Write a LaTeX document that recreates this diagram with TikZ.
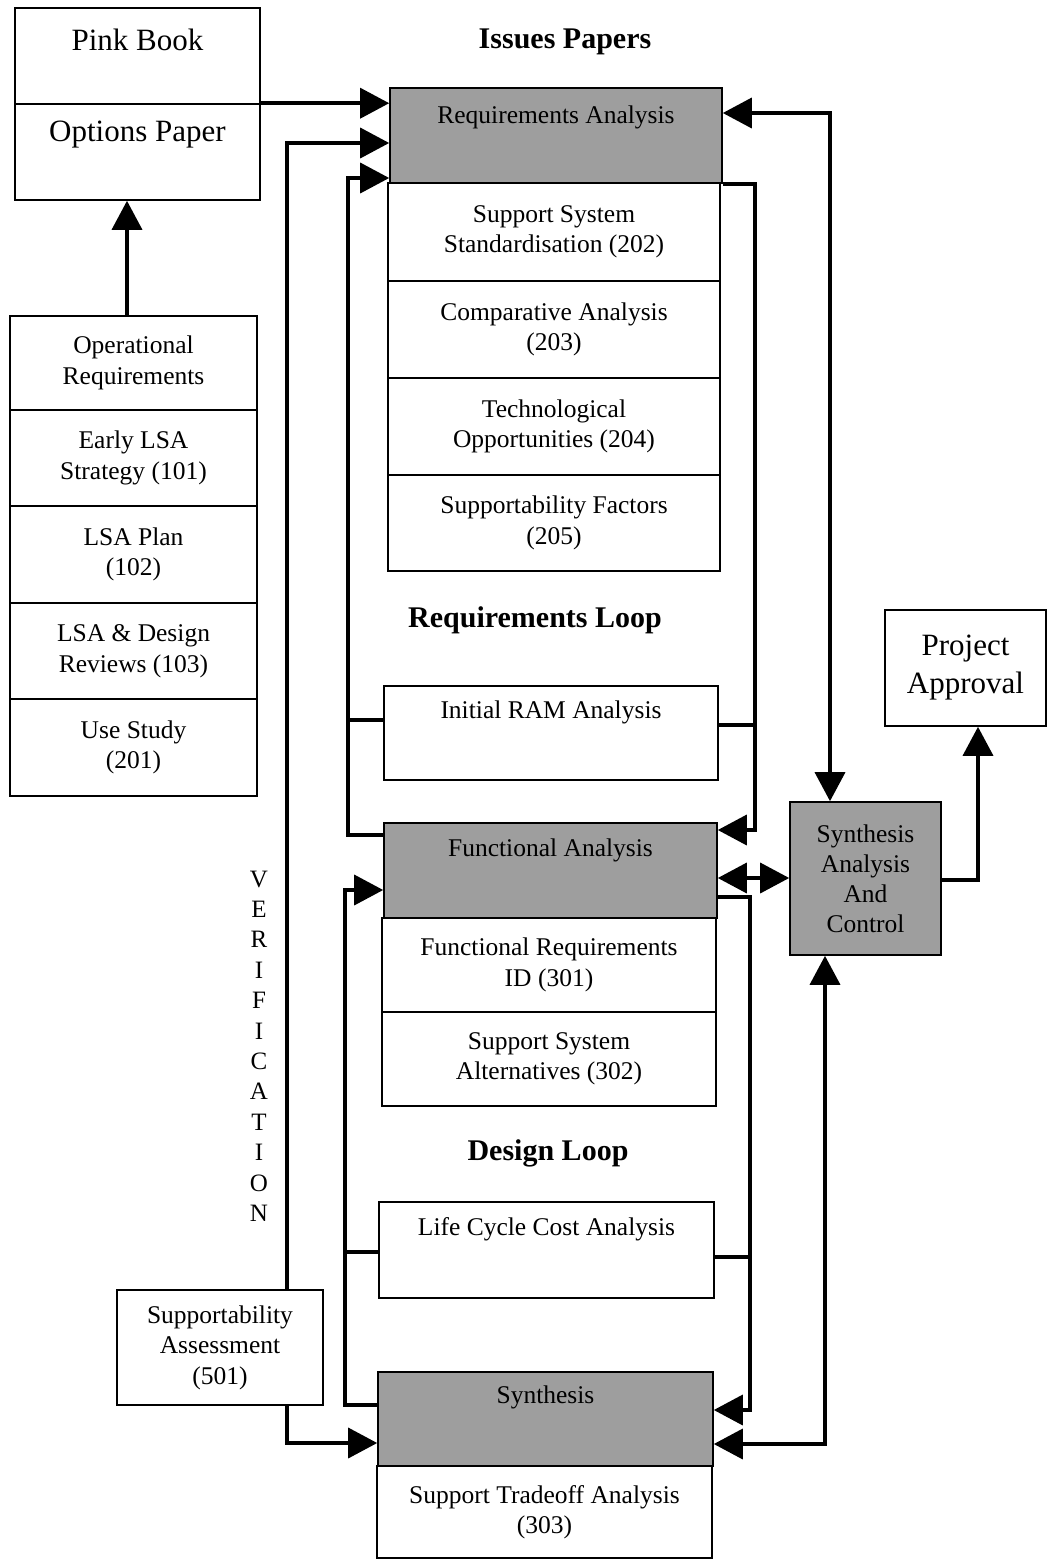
\documentclass[tikz,border=0pt]{standalone}
\usepackage{fontspec}
\setmainfont{Liberation Serif}
\usetikzlibrary{arrows.meta}
\begin{document}
\begin{tikzpicture}[x=1pt,y=-1pt,
 box/.style={draw, line width=1.6pt, inner sep=0pt, align=center, font=\fontsize{25.5}{30.5}\selectfont},
 gbox/.style={box, fill=black!38},
 txt/.style={font=\fontsize{25.5}{30.5}\selectfont, align=center, inner sep=0pt},
 big/.style={font=\fontsize{31}{38}\selectfont, align=center, inner sep=0pt},
 ttl/.style={font=\fontsize{30}{36}\selectfont\bfseries, inner sep=0pt},
 con/.style={line width=3.5pt},
 arr/.style={con, -{Triangle[length=29pt,width=30pt]}},
 arrb/.style={con, {Triangle[length=29pt,width=30pt]}-{Triangle[length=29pt,width=30pt]}}]
\useasboundingbox (0,0) rectangle (1047,1561);

% Pink book / options paper
\node[box, minimum width=245pt, minimum height=96pt] (pb) at (137.5,56) {};
\node[box, minimum width=245pt, minimum height=96pt] (op) at (137.5,152) {};
\node[big] (pbt) at (137.5,40) {Pink Book};
\node[big] (opt) at (137.5,135) {Options Paper};

% left stack
\node[box, minimum width=247pt, minimum height=94pt] (or) at (133.5,363) {Operational\\Requirements};
\node[box, minimum width=247pt, minimum height=96pt] (s101) at (133.5,458) {Early LSA\\Strategy (101)};
\node[box, minimum width=247pt, minimum height=97pt] (s102) at (133.5,554.5) {LSA Plan\\(102)};
\node[box, minimum width=247pt, minimum height=96pt] (s103) at (133.5,651) {LSA \& Design\\Reviews (103)};
\node[box, minimum width=247pt, minimum height=97pt] (s201) at (133.5,747.5) {Use Study\\(201)};

% titles
\node[ttl] (tip) at (565,42) {Issues Papers};
\node[ttl] (trl) at (535,620) {Requirements Loop};
\node[ttl] (tdl) at (548,1153) {Design Loop};

% requirements analysis column
\node[gbox, minimum width=332pt, minimum height=95pt] (ra) at (556,135.5) {};
\node[txt] (rat) at (556,117) {Requirements Analysis};
\node[box, minimum width=332pt, minimum height=98pt] (s202) at (554,232) {Support System\\Standardisation (202)};
\node[box, minimum width=332pt, minimum height=97pt] (s203) at (554,329.5) {Comparative Analysis\\(203)};
\node[box, minimum width=332pt, minimum height=97pt] (s204) at (554,426.5) {Technological\\Opportunities (204)};
\node[box, minimum width=332pt, minimum height=96pt] (s205) at (554,523) {Supportability Factors\\(205)};

\node[box, minimum width=334pt, minimum height=94pt] (ram) at (551,733) {};
\node[txt] (ramt) at (551,712) {Initial RAM Analysis};

% functional analysis column
\node[gbox, minimum width=333pt, minimum height=95pt] (fa) at (550.5,870.5) {};
\node[txt] (fat) at (550.5,850) {Functional Analysis};
\node[box, minimum width=334pt, minimum height=94pt] (s301) at (549,965) {Functional Requirements\\ID (301)};
\node[box, minimum width=334pt, minimum height=94pt] (s302) at (549,1059) {Support System\\Alternatives (302)};

\node[box, minimum width=335pt, minimum height=96pt] (lcc) at (546.5,1250) {};
\node[txt] (lcct) at (546.5,1229) {Life Cycle Cost Analysis};

% synthesis column
\node[gbox, minimum width=335pt, minimum height=94pt] (syn) at (545.5,1419) {};
\node[txt] (synt) at (545.5,1397) {Synthesis};
\node[box, minimum width=335pt, minimum height=92pt] (s303) at (544.5,1512) {Support Tradeoff Analysis\\(303)};

\node[box, minimum width=206pt, minimum height=115pt] (sa) at (220,1347.5) {Supportability\\Assessment\\(501)};

\node[gbox, minimum width=151pt, minimum height=153pt, font=\fontsize{25.5}{30}\selectfont] (sac) at (865.5,878.5) {Synthesis\\Analysis\\And\\Control};
\node[box, minimum width=161pt, minimum height=116pt, font=\fontsize{31}{38}\selectfont] (pa) at (965.5,668) {Project\\Approval};

\node[txt, font=\fontsize{25}{30.4}\selectfont] (verif) at (259,1046) {V\\E\\R\\I\\F\\I\\C\\A\\T\\I\\O\\N};

% helper coordinates
\coordinate (vx) at (287,0);
\coordinate (rl) at (348,0);
\coordinate (rr) at (755,0);
\coordinate (dl) at (345,0);
\coordinate (dr) at (750,0);
\coordinate (ox) at (830,0);
\coordinate (bx) at (825,0);
\coordinate (px) at (978,0);
\coordinate (ux) at (127,0);

% connectors
\draw[arr] (or.north -| ux) -- (op.south -| ux);
\draw[arr] (op.north east) -- (ra.west |- op.north east);
\draw[arr] (sa.north -| vx) |- (ra.west |- 0,143);
\draw[arr] (sa.south -| vx) |- (syn.west |- 0,1443);

% requirements loop
\draw[arr] (fa.west |- 0,835) -| (rl |- 0,178) -- (ra.west |- 0,178);
\draw[con] (ram.west |- 0,720) -- (rl |- 0,720);
\draw[arr] (ra.south east) -| (rr |- 0,830) -- (fa.east |- 0,830);
\draw[con] (ram.east |- 0,725) -- (rr |- 0,725);

% outer
\draw[arrb] (ra.east |- 0,113) -| (sac.north -| ox);
\draw[arrb] (fa.east |- 0,878) -- (sac.west |- 0,878);

% design loop
\draw[arr] (syn.west |- 0,1405) -| (dl |- 0,890) -- (fa.west |- 0,890);
\draw[con] (lcc.west |- 0,1252) -- (dl |- 0,1252);
\draw[arr] (fa.east |- 0,897) -| (dr |- 0,1410) -- (syn.east |- 0,1410);
\draw[con] (lcc.east |- 0,1257) -- (dr |- 0,1257);

\draw[arrb] (syn.east |- 0,1444) -| (sac.south -| bx);
\draw[arr] (sac.east |- 0,880) -| (pa.south -| px);
\end{tikzpicture}
\end{document}
